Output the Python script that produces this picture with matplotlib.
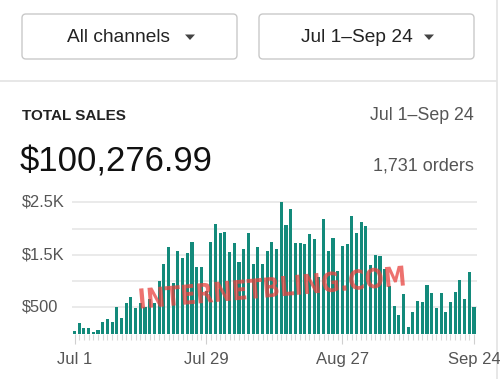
import matplotlib
matplotlib.use('Agg')
import matplotlib.pyplot as plt
import matplotlib.patches as patches
from matplotlib.textpath import TextPath
from matplotlib.font_manager import FontProperties
from matplotlib.transforms import Affine2D

# daily sales, Jul 1 .. Sep 24
sales = [51, 204, 96, 96, 32, 76, 223, 274, 223, 497,
         300, 573, 700, 490, 573, 500, 650, 573, 1000, 1325,
         1643, 955, 1573, 1433, 1529, 1752, 1274, 1274, 809, 1752,
         2089, 1924, 1943, 1548, 1720, 1370, 1605, 1924, 1325, 1643,
         1325, 1573, 1752, 1605, 2503, 2070, 2376, 1720, 1720, 1700,
         1898, 1803, 1083, 2178, 1573, 1828, 1191, 1675, 1700, 2248,
         1924, 2121, 2051, 1306, 1497, 1478, 1229, 904, 529, 350,
         752, 127, 401, 624, 605, 924, 777, 478, 777, 401,
         605, 796, 1019, 650, 1178, 497]
tick_days = [0, 28, 57, 85]
tick_labels = ['Jul 1', 'Jul 29', 'Aug 27', 'Sep 24']
grid_values = [500, 1000, 1500, 2000, 2500]
grid_labels = ['$500', '', '$1.5K', '', '$2.5K']

channel_text = 'All channels'
range_text = 'Jul 1\u2013Sep 24'
total_text = '$100,276.99'
orders_text = '1,731 orders'
watermark = 'INTERNETBLING.COM'

W, H = 500, 379
FONT = 'Liberation Sans'
plt.rcParams['font.family'] = FONT

fig = plt.figure(figsize=(W / 100, H / 100), dpi=100)

def pixel_axes(z):
    a = fig.add_axes([0, 0, 1, 1], zorder=z)
    a.set_xlim(0, W)
    a.set_ylim(H, 0)
    a.axis('off')
    a.patch.set_alpha(0)
    return a

# overlay in pixel coordinates for the UI bits
ui = pixel_axes(-1)

for x0 in (22, 259):
    btn = patches.FancyBboxPatch((x0, 14), 215, 45,
                                 boxstyle='round,pad=0,rounding_size=4',
                                 linewidth=1, edgecolor='#c9c9c9', facecolor='white')
    ui.add_patch(btn)

def caret(cx, cy):
    tri = patches.Polygon([(cx - 5, cy - 2.5), (cx + 5, cy - 2.5), (cx, cy + 3)],
                          closed=True, facecolor='#444444', edgecolor='none')
    ui.add_patch(tri)

ui.text(67, 37, channel_text, fontsize=13.8, color='#222222', ha='left', va='center')
caret(190, 37)
ui.text(301, 37, range_text, fontsize=13.8, color='#222222', ha='left', va='center')
caret(429, 37)

ui.plot([0, 496], [81, 81], color='#e3e3e3', lw=1.2)
ui.plot([496.5, 496.5], [0, H], color='#e3e3e3', lw=1.2)

ui.text(22, 116, 'TOTAL SALES', fontsize=11, fontweight='bold', color='#222222',
        ha='left', va='center')
ui.text(474, 116, range_text, fontsize=12.8, color='#555555', ha='right', va='center')
ui.text(20, 162, total_text, fontsize=25, color='#111111', ha='left', va='center')
ui.text(474, 166, orders_text, fontsize=13, color='#555555', ha='right', va='center')

# the bar chart itself
ax = fig.add_axes([71.7 / W, (H - 333.5) / H, 405.1 / W, 133.8 / H])
days = list(range(len(sales)))
ax.bar(days, sales, width=0.66, color='#138a7b', zorder=3)
ax.set_xlim(-0.6, len(sales) - 0.4)
ax.set_ylim(0, 2550)

ax.set_yticks(grid_values)
ax.set_yticklabels(grid_labels)
ax.grid(axis='y', color='#e6e6e6', lw=1.2, zorder=0)
ax.tick_params(axis='y', length=0, pad=35.8, labelsize=11.8, labelcolor='#555555')
for lab in ax.get_yticklabels():
    lab.set_horizontalalignment('left')
    lab.set_verticalalignment('center')

ax.set_xticks(tick_days)
ax.set_xticklabels(tick_labels)
ax.set_xticks(days, minor=True)
ax.tick_params(axis='x', which='major', length=7, color='#cfcfcf', width=0.8,
               labelsize=12, labelcolor='#555555', pad=6)
ax.tick_params(axis='x', which='minor', length=4.5, color='#d8d8d8', width=0.8)

for side in ('top', 'right', 'left', 'bottom'):
    ax.spines[side].set_visible(False)

# watermark: squeezed bold text on top of the chart
top = pixel_axes(10)
tp = TextPath((0, 0), watermark, size=1,
              prop=FontProperties(family='DejaVu Sans', weight='bold'))
ext = tp.get_extents()
sx = 265 / ext.width
sy = 20 / 0.73
trans = (Affine2D().translate(-ext.x0 - ext.width / 2, -0.365)
         .scale(sx, -sy).rotate_deg(-5).translate(272, 287))
wm = patches.PathPatch(trans.transform_path(tp), facecolor='#e8433f',
                       edgecolor='none', alpha=0.75)
top.add_patch(wm)

fig.savefig('out.png', dpi=100)
